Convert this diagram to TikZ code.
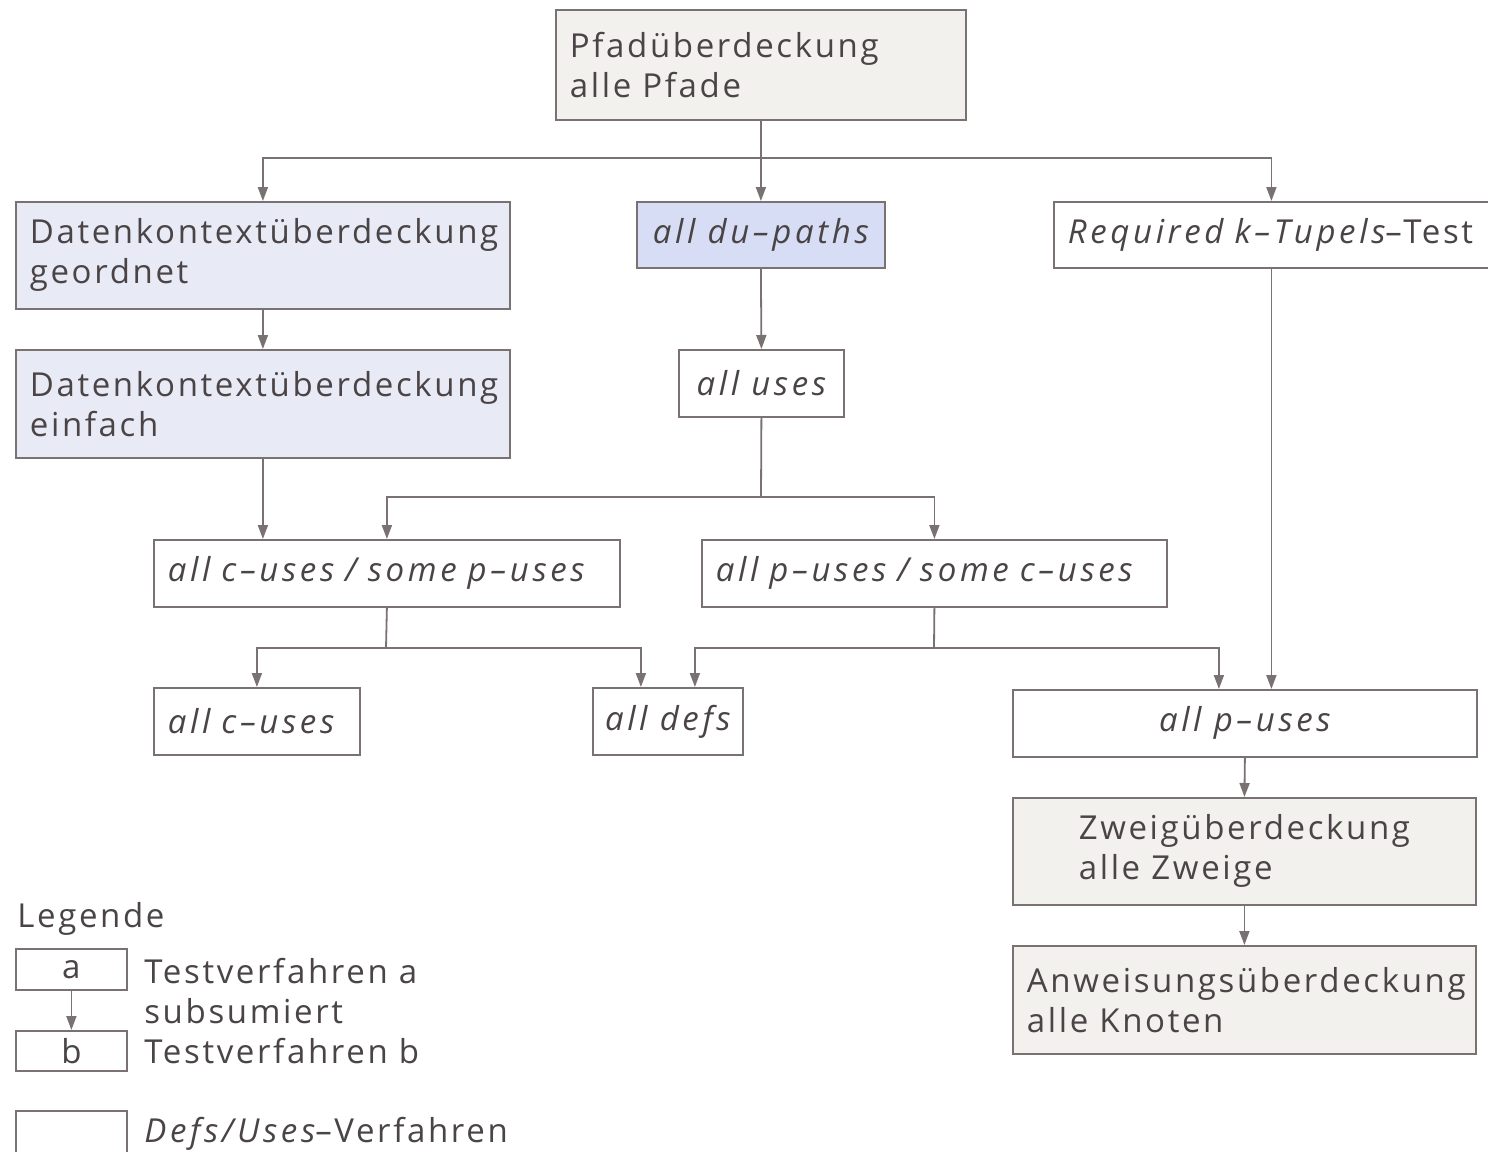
\documentclass[tikz,border=0pt]{standalone}
\usepackage{fontspec}
\setmainfont{Open Sans}[LetterSpace=8, ItalicFeatures={LetterSpace=11}]
\usetikzlibrary{arrows.meta}
\definecolor{lnc}{HTML}{7A7172}
\definecolor{txc}{HTML}{4A4446}
\definecolor{gfill}{HTML}{F3F1EE}
\definecolor{bfill}{HTML}{E8EAF5}
\definecolor{dfill}{HTML}{D6DDF4}
\begin{document}
\begin{tikzpicture}[x=0.5pt,y=-0.5pt,
  box/.style={draw=lnc, line width=0.9pt, anchor=north west, inner xsep=7pt, inner ysep=0pt,
    font=\fontsize{16.5}{20}\selectfont, text=txc},
  lbox/.style={box, align=left},
  cbox/.style={box, align=center},
  arr/.style={draw=lnc, line width=0.9pt, -{Triangle[length=7pt,width=5pt]}},
  lnk/.style={draw=lnc, line width=0.9pt},
  txt/.style={anchor=base west, inner sep=0pt, font=\fontsize{16.5}{20}\selectfont, text=txc}]
\useasboundingbox[fill=white] (0,0) rectangle (1488,1151);

% nodes
\node[lbox, fill=gfill, minimum width=205pt, minimum height=55pt, text width=191pt] (pfad) at (555,9)
  {Pfadüberdeckung\\alle Pfade};
\node[lbox, fill=bfill, minimum width=247pt, minimum height=53.5pt, text width=233pt] (dk1) at (15,201)
  {Datenkontextüberdeckung\\geordnet};
\node[cbox, fill=dfill, minimum width=124pt, minimum height=33pt] (dup) at (636,201)
  {\itshape all du--paths};
\node[lbox, fill=white, minimum width=217.5pt, minimum height=33pt, text width=203.5pt] (req) at (1053,201)
  {\itshape Required k--Tupels\upshape--Test};
\node[lbox, fill=bfill, minimum width=247pt, minimum height=54pt, text width=233pt] (dk2) at (15,349)
  {Datenkontextüberdeckung\\einfach};
\node[cbox, fill=white, minimum width=82.5pt, minimum height=33.5pt] (uses) at (678,349)
  {\itshape all uses};
\node[lbox, fill=white, minimum width=233pt, minimum height=33.5pt, text width=219pt] (acsp) at (153,539)
  {\itshape all c--uses / some p--uses};
\node[lbox, fill=white, minimum width=232.5pt, minimum height=33.5pt, text width=218.5pt] (apsc) at (701,539)
  {\itshape all p--uses / some c--uses};
\node[lbox, fill=white, minimum width=103pt, minimum height=33.5pt, text width=89pt] (cu) at (153,687)
  {\itshape all c--uses};
\node[cbox, fill=white, minimum width=75pt, minimum height=33.5pt, inner xsep=4pt] (defs) at (592,687)
  {\itshape all defs};
\node[cbox, fill=white, minimum width=232pt, minimum height=33.5pt] (pu) at (1012,689)
  {\itshape all p--uses};
\node[box, align=left, fill=gfill, minimum width=231.5pt, minimum height=53.5pt] (zw) at (1012,797)
  {Zweigüberdeckung\\alle Zweige};
\node[lbox, fill=gfill, minimum width=231.5pt, minimum height=54pt, text width=217.5pt] (anw) at (1012,945)
  {Anweisungsüberdeckung\\alle Knoten};

% legend
\node[txt] (leg) at (17,927) {Legende};
\node[cbox, fill=white, minimum width=55.5pt, minimum height=20.5pt] (la) at (15,948) {a};
\node[cbox, fill=white, minimum width=55.5pt, minimum height=20pt] (lb) at (15,1030) {b};
\node[txt] (lt1) at (144,983) {Testverfahren a};
\node[txt] (lt2) at (144,1023) {subsumiert};
\node[txt] (lt3) at (144,1063) {Testverfahren b};
\node[box, fill=white, minimum width=55.5pt, minimum height=21.5pt] (lc) at (15,1110) {};
\node[txt] (ld) at (144,1142) {\itshape Defs/Uses\upshape--Verfahren};

% connectors
\coordinate (j1) at (761,158);
\coordinate (j2) at (761,497);
\coordinate (j3) at (386,648);
\coordinate (j4) at (934,648);

\draw[arr] (pfad.south) -- (dup.north);
\draw[lnk] (j1 -| dk1.north) -- (j1 -| req.north);
\draw[arr] (j1) -| (dk1.north);
\draw[arr] (j1) -| (req.north);
\draw[arr] (dk1.south) -- (dk2.north);
\draw[arr] (dk2.south) -- (dk2.south |- acsp.north);
\draw[arr] (dup.south) -- (uses.north);
\draw[lnk] (uses.south) -- (j2);
\draw[arr] (j2) -| (acsp.north);
\draw[arr] (j2) -| (apsc.north);
\draw[lnk] (acsp.south) -- (j3);
\draw[arr] (j3) -| (cu.north);
\draw[arr] (j3) -| ([xshift=-13.5pt]defs.north);
\draw[lnk] (apsc.south) -- (j4);
\draw[arr] (j4) -| ([xshift=13.5pt]defs.north);
\draw[arr] (j4) -| ([xshift=-13pt]pu.north);
\draw[arr] (req.south) -- (req.south |- pu.north);
\draw[arr] (pu.south) -- (zw.north);
\draw[arr] (zw.south) -- (anw.north);
\draw[arr] (la.south) -- (lb.north);
\end{tikzpicture}
\end{document}
